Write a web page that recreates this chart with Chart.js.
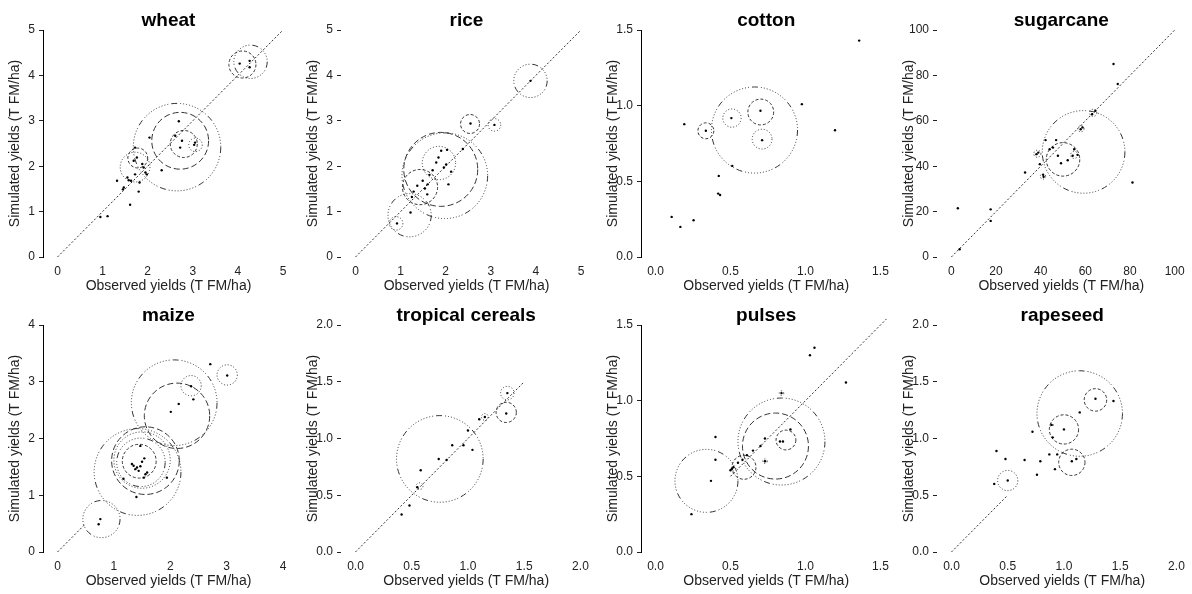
<!DOCTYPE html>
<html>
<head>
<meta charset="utf-8">
<script src="https://cdn.jsdelivr.net/npm/chart.js@4.4.0/dist/chart.umd.min.js"></script>
<style>
  html, body { margin: 0; padding: 0; background: #fff; }
  #wrap { position: relative; width: 1192px; height: 594px; overflow: hidden; }
  .panel { position: absolute; width: 298px; height: 295px; }
</style>
</head>
<body>
<div id="wrap"></div>
<script>
// observed / simulated yields, plus circles (centre x, centre y, radius, line type)
const wheatObs = [0.95, 1.11, 1.32, 1.45, 1.47, 1.58, 1.61, 1.63, 1.72, 1.80, 1.82, 1.76, 1.72, 1.91, 1.98, 2.04, 2.31, 2.61, 2.69, 2.72, 2.76, 3.03, 3.05, 4.04, 4.26, 4.26, 1.69, 1.95, 1.55, 1.88];
const wheatSim = [0.88, 0.90, 1.68, 1.49, 1.53, 1.69, 1.15, 1.68, 1.82, 1.44, 1.64, 2.19, 2.41, 1.97, 1.82, 2.63, 1.91, 2.67, 2.99, 2.41, 2.56, 2.47, 2.52, 4.26, 4.32, 4.18, 2.12, 1.86, 1.75, 2.05];
const wheatCx = [2.65, 2.72, 2.80, 3.06, 1.78, 1.72, 4.10, 4.28];
const wheatCy = [2.42, 2.56, 2.49, 2.47, 2.18, 1.98, 4.24, 4.30];
const wheatR = [0.97, 0.63, 0.30, 0.15, 0.22, 0.33, 0.30, 0.37];
const wheatLty = ['dotdash', 'longdash', 'dashed', 'dotted', 'dashed', 'dotted', 'dashed', 'dotdash'];
const wheatLine = [0, 5];
const wheatTicks = [0, 1, 2, 3, 4, 5];

const riceObs = [0.92, 1.22, 1.25, 1.29, 1.37, 1.49, 1.54, 1.59, 1.60, 1.64, 1.71, 1.79, 1.84, 1.90, 1.96, 2.01, 2.03, 2.06, 2.12, 2.38, 2.55, 3.08, 3.88];
const riceSim = [0.74, 0.98, 1.32, 1.44, 1.57, 1.68, 1.51, 1.38, 1.60, 1.81, 1.91, 2.08, 2.19, 2.34, 1.97, 2.04, 2.36, 1.60, 1.88, 2.38, 2.94, 2.91, 3.88];
const riceCx = [0.90, 1.20, 1.43, 1.85, 1.98, 1.89, 2.54, 3.08, 3.88];
const riceCy = [0.74, 0.92, 1.54, 2.07, 1.79, 1.93, 2.93, 2.91, 3.88];
const riceR = [0.15, 0.48, 0.39, 0.37, 0.95, 0.82, 0.21, 0.14, 0.37];
const riceLty = ['dotted', 'dotdash', 'dashed', 'dotted', 'dotdash', 'longdash', 'dashed', 'dotted', 'dotdash'];
const riceLine = [0, 5];
const riceTicks = [0, 1, 2, 3, 4, 5];

const cottonObs = [0.108, 0.166, 0.254, 0.192, 0.336, 0.422, 0.418, 0.431, 0.512, 0.506, 0.70, 0.711, 0.976, 1.197, 1.358];
const cottonSim = [0.265, 0.199, 0.243, 0.878, 0.834, 0.536, 0.419, 0.410, 0.602, 0.918, 0.966, 0.772, 1.010, 0.838, 1.43];
const cottonCx = [0.336, 0.51, 0.702, 0.711, 0.66];
const cottonCy = [0.834, 0.918, 0.958, 0.779, 0.839];
const cottonR = [0.053, 0.061, 0.086, 0.066, 0.287];
const cottonLty = ['dashed', 'dotted', 'dashed', 'dotted', 'dotdash'];
const cottonLine = null;
const cottonTicks = [0, 0.5, 1, 1.5];

const sugarObs = [3.7, 2.9, 17.6, 17.6, 33.0, 38.1, 38.9, 39.6, 41.1, 41.3, 42.2, 44.0, 45.5, 46.9, 47.7, 49.1, 52.1, 54.3, 55.0, 56.5, 57.9, 58.7, 63.0, 64.5, 72.6, 74.5, 81.1];
const sugarSim = [3.4, 21.5, 21.0, 15.9, 37.2, 45.3, 46.0, 40.9, 36.2, 35.3, 51.5, 47.5, 48.2, 51.5, 44.6, 41.3, 42.6, 44.6, 47.5, 45.0, 56.3, 57.1, 62.9, 64.4, 85.0, 76.2, 32.8];
const sugarCx = [59.2, 50, 38.5, 55, 58, 63.5, 41];
const sugarCy = [46.3, 43, 45.5, 45, 56.5, 63.5, 35.5];
const sugarR = [18.5, 7.5, 1.6, 1.6, 1.4, 1.6, 1.2];
const sugarLty = ['dotdash', 'dashed', 'dotted', 'dotted', 'dotted', 'dotted', 'dotted'];
const sugarLine = [0, 100];
const sugarTicks = [0, 20, 40, 60, 80, 100];

const maizeObs = [0.73, 0.76, 1.40, 1.17, 1.32, 1.38, 1.41, 1.44, 1.47, 1.50, 1.53, 1.54, 1.47, 1.59, 1.94, 2.01, 2.15, 2.37, 2.41, 2.71, 3.01, 1.35, 1.56];
const maizeSim = [0.49, 0.58, 0.97, 1.29, 1.55, 1.46, 1.49, 1.43, 1.51, 1.59, 1.31, 1.65, 1.87, 1.40, 1.31, 2.47, 2.61, 2.92, 2.69, 3.31, 3.11, 1.52, 1.37];
const maizeCx = [0.78, 1.42, 1.56, 1.50, 1.48, 1.45, 2.07, 2.12, 2.37, 3.01];
const maizeCy = [0.58, 1.41, 1.61, 1.62, 1.58, 1.60, 2.63, 2.40, 2.93, 3.12];
const maizeR = [0.33, 0.77, 0.60, 0.50, 0.43, 0.30, 0.76, 0.58, 0.18, 0.18];
const maizeLty = ['dotdash', 'dotdash', 'longdash', 'dotted', 'dotdash', 'dashed', 'dotdash', 'longdash', 'dotted', 'dotted'];
const maizeLine = [0, 0.48];
const maizeTicks = [0, 1, 2, 3, 4];

const tropObs = [0.41, 0.48, 0.55, 0.58, 0.74, 0.81, 0.86, 0.96, 1.04, 1.00, 1.10, 1.15, 1.34, 1.35];
const tropSim = [0.33, 0.41, 0.57, 0.72, 0.82, 0.81, 0.94, 0.94, 0.90, 1.07, 1.17, 1.19, 1.22, 1.40];
const tropCx = [0.75, 1.35, 1.34, 1.15, 0.57];
const tropCy = [0.82, 1.40, 1.23, 1.19, 0.58];
const tropR = [0.385, 0.06, 0.09, 0.03, 0.03];
const tropLty = ['dotdash', 'dotted', 'dashed', 'dotted', 'dotted'];
const tropLine = [0, 1.5];
const tropTicks = [0, 0.5, 1, 1.5, 2];

const pulsesObs = [0.24, 0.37, 0.40, 0.40, 0.50, 0.51, 0.52, 0.55, 0.58, 0.61, 0.65, 0.70, 0.73, 0.73, 0.83, 0.85, 0.90, 0.84, 1.03, 1.06, 1.27];
const pulsesSim = [0.25, 0.47, 0.61, 0.76, 0.54, 0.55, 0.56, 0.59, 0.61, 0.64, 0.67, 0.70, 0.75, 0.60, 0.73, 0.73, 0.81, 1.05, 1.30, 1.35, 1.12];
const pulsesCx = [0.34, 0.59, 0.80, 0.84, 0.87, 0.84, 0.73, 0.52];
const pulsesCy = [0.47, 0.56, 0.70, 0.73, 0.74, 1.05, 0.60, 0.55];
const pulsesR = [0.21, 0.08, 0.22, 0.29, 0.066, 0.015, 0.015, 0.015];
const pulsesLty = ['dotdash', 'dashed', 'longdash', 'dotdash', 'dashed', 'dotted', 'dotted', 'dotted'];
const pulsesLine = [0.5, 1.54];
const pulsesTicks = [0, 0.5, 1, 1.5];

const rapeObs = [0.38, 0.40, 0.48, 0.50, 0.65, 0.72, 0.76, 0.79, 0.87, 0.89, 0.90, 0.92, 0.94, 1.00, 1.07, 1.11, 1.14, 1.28, 1.44];
const rapeSim = [0.60, 0.89, 0.82, 0.63, 0.81, 1.06, 0.68, 0.80, 0.86, 1.12, 1.01, 0.73, 0.86, 1.08, 0.80, 0.82, 1.23, 1.35, 1.33];
const rapeCx = [0.50, 1.00, 1.07, 1.28, 1.14, 0.89];
const rapeCy = [0.63, 1.08, 0.79, 1.34, 1.22, 1.12];
const rapeR = [0.09, 0.13, 0.117, 0.10, 0.38, 0.015];
const rapeLty = ['dotted', 'dashed', 'dashed', 'dashed', 'dotdash', 'dotted'];
const rapeLine = [0, 0.5];
const rapeTicks = [0, 0.5, 1, 1.5, 2];

// line types, tuned to look like the reference
const LTY = {
  dashed: [3, 2],
  dotted: [1, 2],
  dotdash: [6, 3, 1, 2, 1, 2, 1, 2, 1, 2, 1, 2, 1, 2, 1, 2, 1, 2, 1, 2, 1, 3],
  longdash: [6, 3],
};

const panels = [
  { title: 'wheat', obs: wheatObs, sim: wheatSim, cx: wheatCx, cy: wheatCy, r: wheatR, lty: wheatLty, line: wheatLine, ticks: wheatTicks, dec: 0, axisLine: true },
  { title: 'rice', obs: riceObs, sim: riceSim, cx: riceCx, cy: riceCy, r: riceR, lty: riceLty, line: riceLine, ticks: riceTicks, dec: 0, axisLine: false },
  { title: 'cotton', obs: cottonObs, sim: cottonSim, cx: cottonCx, cy: cottonCy, r: cottonR, lty: cottonLty, line: cottonLine, ticks: cottonTicks, dec: 1, axisLine: true },
  { title: 'sugarcane', obs: sugarObs, sim: sugarSim, cx: sugarCx, cy: sugarCy, r: sugarR, lty: sugarLty, line: sugarLine, ticks: sugarTicks, dec: 0, axisLine: false },
  { title: 'maize', obs: maizeObs, sim: maizeSim, cx: maizeCx, cy: maizeCy, r: maizeR, lty: maizeLty, line: maizeLine, ticks: maizeTicks, dec: 0, axisLine: true },
  { title: 'tropical cereals', obs: tropObs, sim: tropSim, cx: tropCx, cy: tropCy, r: tropR, lty: tropLty, line: tropLine, ticks: tropTicks, dec: 1, axisLine: false },
  { title: 'pulses', obs: pulsesObs, sim: pulsesSim, cx: pulsesCx, cy: pulsesCy, r: pulsesR, lty: pulsesLty, line: pulsesLine, ticks: pulsesTicks, dec: 1, axisLine: true },
  { title: 'rapeseed', obs: rapeObs, sim: rapeSim, cx: rapeCx, cy: rapeCy, r: rapeR, lty: rapeLty, line: rapeLine, ticks: rapeTicks, dec: 1, axisLine: false },
];

const colLeft = [0, 298, 598, 894];
const rowTop = [0, 295];

Chart.defaults.font.family = '"Liberation Sans", Arial, sans-serif';
Chart.defaults.color = '#111';

// sets the dash pattern of circle datasets (points have no borderDash of their own)
const dashPlugin = {
  id: 'circleDash',
  beforeDatasetDraw(chart, args) {
    const d = chart.data.datasets[args.index].dash;
    if (d) chart.ctx.setLineDash(d);
  },
  afterDatasetDraw(chart) {
    chart.ctx.setLineDash([]);
  }
};

// radius given in data units -> pixels via the x scale
function radiusPx(c) {
  if (!c.raw) return 0;
  const s = c.chart.scales.x;
  return Math.abs(s.getPixelForValue(c.raw.r) - s.getPixelForValue(0));
}

function circleSets(cx, cy, cr, lty) {
  const groups = {};
  cx.forEach((x, i) => {
    (groups[lty[i]] = groups[lty[i]] || []).push({ x: x, y: cy[i], r: cr[i] });
  });
  return Object.keys(groups).map(k => ({
    data: groups[k],
    dash: LTY[k],
    pointRadius: radiusPx,
    borderColor: '#333',
    borderWidth: 1,
    backgroundColor: 'rgba(0,0,0,0)',
    clip: false,
  }));
}

function buildPanel(p, left, top) {
  const box = document.createElement('div');
  box.className = 'panel';
  box.style.left = left + 'px';
  box.style.top = top + 'px';
  const cv = document.createElement('canvas');
  cv.width = 298;
  cv.height = 295;
  box.appendChild(cv);
  document.getElementById('wrap').appendChild(box);

  const span = p.ticks[p.ticks.length - 1];
  const unit = 225.5 / span; // pixels per data unit

  const datasets = [];
  datasets.push({
    data: p.obs.map((x, i) => ({ x: x, y: p.sim[i] })),
    pointRadius: 1.2,
    backgroundColor: '#000',
    borderWidth: 0,
    clip: false,
  });
  if (p.line) {
    datasets.push({
      data: p.line.map(v => ({ x: v, y: v })),
      showLine: true,
      borderColor: '#333',
      borderWidth: 1,
      borderDash: [2, 2],
      pointRadius: 0,
      clip: false,
    });
  }
  circleSets(p.cx, p.cy, p.r, p.lty).forEach(d => datasets.push(d));

  const setTicks = s => { s.ticks = p.ticks.map(v => ({ value: v })); };
  const fmt = v => Number(v).toFixed(p.dec);

  new Chart(cv, {
    type: 'scatter',
    data: { datasets },
    plugins: [dashPlugin],
    options: {
      responsive: false,
      animation: false,
      events: [],
      layout: { padding: { left: 0, right: 4, top: 0, bottom: 0 } },
      plugins: {
        legend: { display: false },
        tooltip: { enabled: false },
        title: {
          display: true,
          text: p.title,
          fullSize: false,
          color: '#000',
          font: { size: 19, weight: 'bold', lineHeight: 1 },
          padding: { top: 11, bottom: 0 },
        },
      },
      scales: {
        x: {
          type: 'linear',
          min: -14.5 / unit,
          max: span + 11 / unit,
          afterBuildTicks: setTicks,
          afterFit: s => { s.height = 38; },
          grid: { display: false, drawTicks: false },
          border: { display: false },
          ticks: { callback: fmt, padding: 7, font: { size: 12 }, color: '#222' },
          title: { display: true, text: 'Observed yields (T FM/ha)', font: { size: 14 }, color: '#222', padding: { top: 0, bottom: 0 } },
        },
        y: {
          type: 'linear',
          min: 0,
          max: span,
          afterBuildTicks: setTicks,
          afterFit: s => { s.width = 43; },
          grid: { display: true, drawOnChartArea: false, drawTicks: true, tickLength: 4, color: '#222' },
          border: { display: p.axisLine, color: '#000', width: 1 },
          ticks: { callback: fmt, padding: 4, font: { size: 12 }, color: '#222' },
          title: { display: true, text: 'Simulated yields (T FM/ha)', font: { size: 14 }, color: '#222', padding: { top: 7, bottom: 0 } },
        },
      },
    },
  });
}

panels.forEach((p, i) => buildPanel(p, colLeft[i % 4], rowTop[Math.floor(i / 4)]));
</script>
</body>
</html>
